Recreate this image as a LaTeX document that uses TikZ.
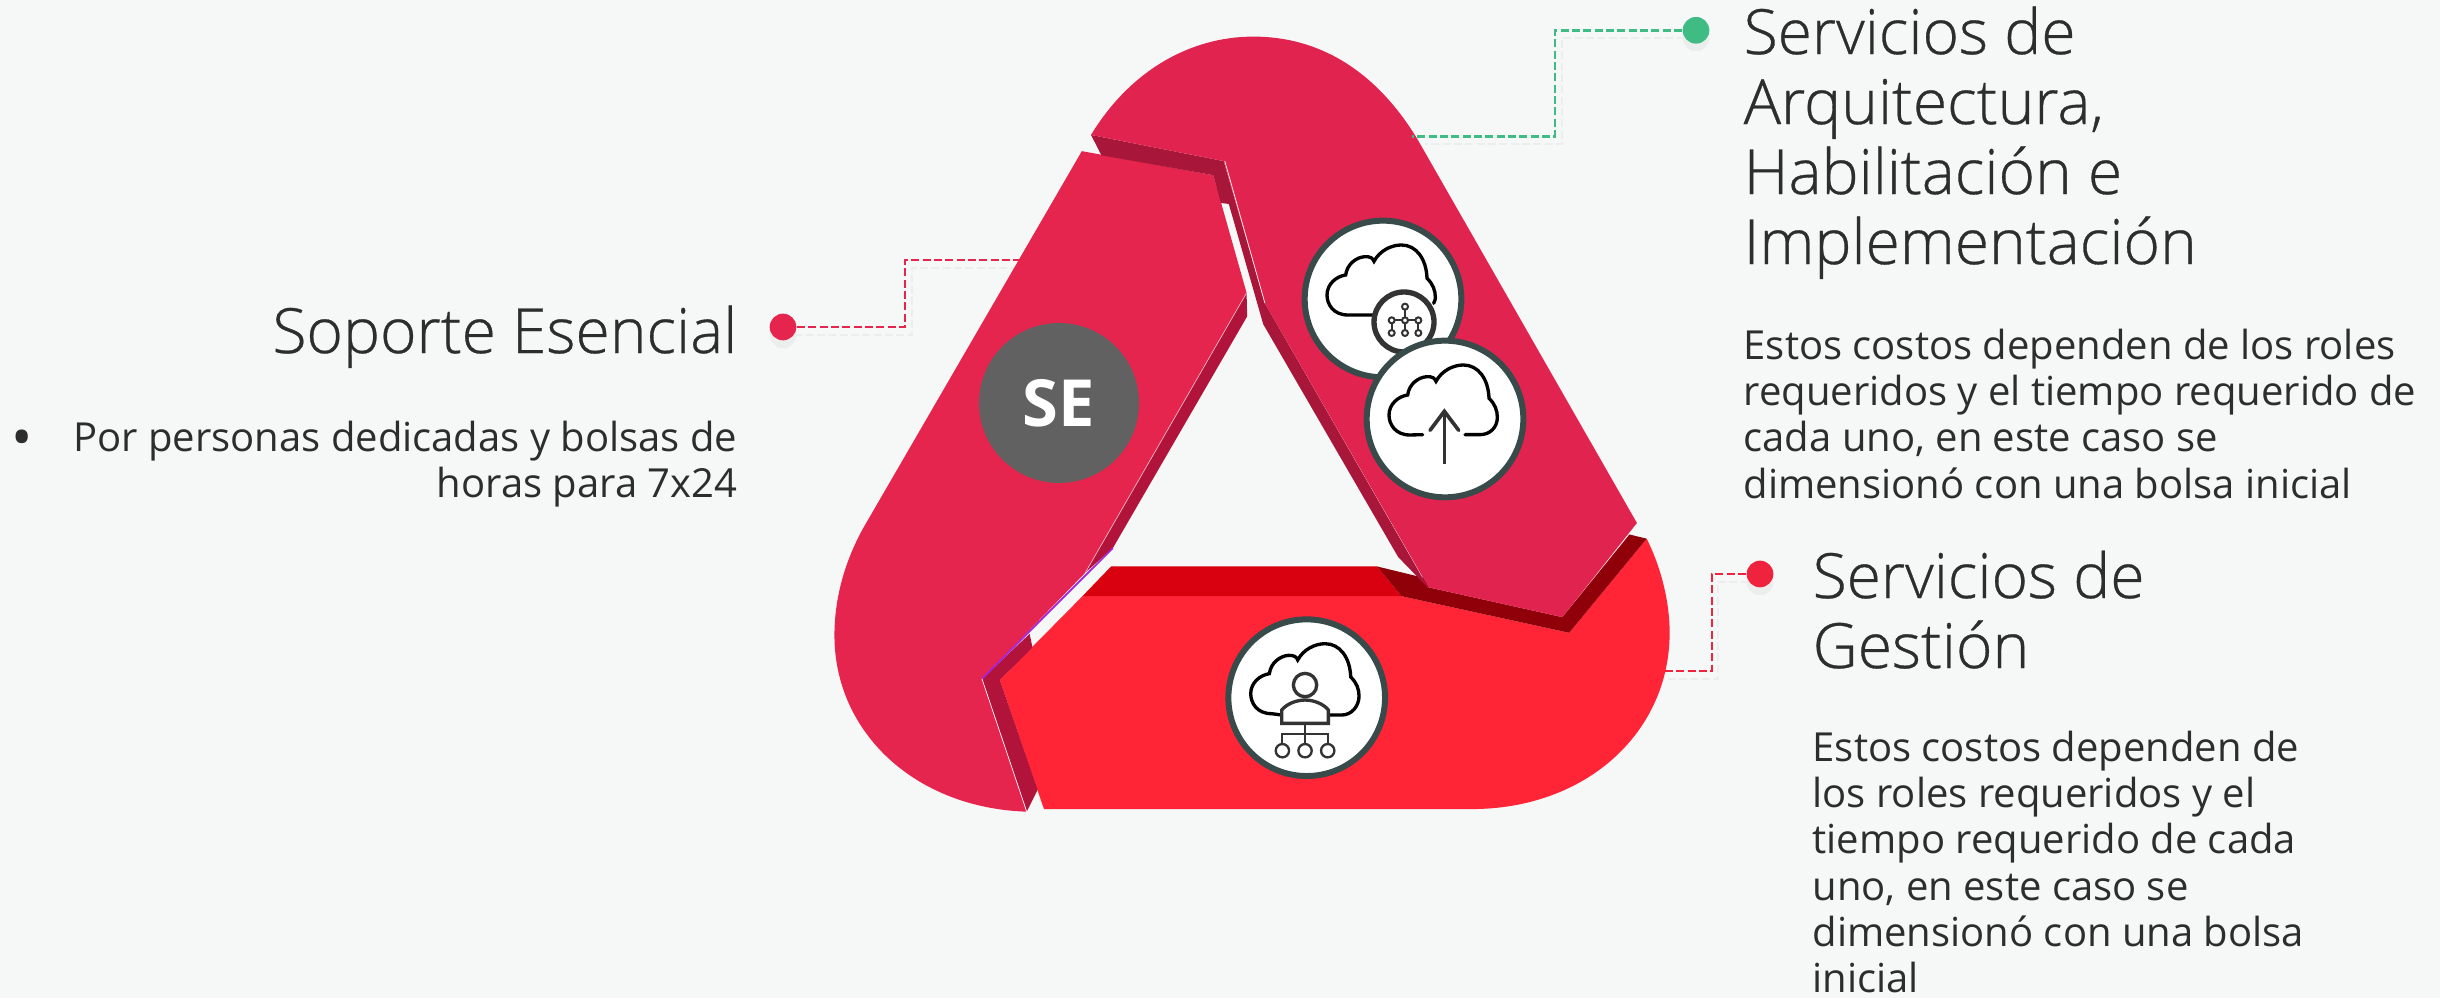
\documentclass[tikz,border=0pt]{standalone}
\usepackage{fontspec}
\setmainfont{Open Sans Light}[FakeBold=0.5]
\newfontfamily\sefont{Open Sans}
\definecolor{bgc}{HTML}{F6F8F8}
\definecolor{topc}{HTML}{E1244F}
\definecolor{leftc}{HTML}{E6254E}
\definecolor{botc}{HTML}{FF2537}
\definecolor{topd}{HTML}{A8173A}
\definecolor{leftd}{HTML}{B2133A}
\definecolor{botd}{HTML}{D9000F}
\definecolor{botdd}{HTML}{900008}
\definecolor{ringc}{HTML}{394A4A}
\definecolor{icong}{HTML}{333333}
\definecolor{greenc}{HTML}{3FBB84}
\definecolor{redc}{HTML}{E6254E}
\definecolor{redb}{HTML}{F0233F}
\definecolor{shadowc}{HTML}{ECEEEE}
\definecolor{txt}{HTML}{2D2D2D}
\definecolor{purp}{HTML}{A524D8}
\tikzset{
 ringed/.style={circle,draw=ringc,fill=white,line width=1.8pt,minimum size=47pt,inner sep=0pt},
 smallring/.style={circle,draw=icong,fill=white,line width=1.6pt,minimum size=18pt,inner sep=0pt},
 cloudline/.style={draw=black,line width=1pt,line cap=round},
 iconline/.style={draw=icong,line width=0.6pt},
 dashline/.style={line width=0.75pt,dash pattern=on 2.4pt off 1pt},
 dotn/.style={circle,minimum size=8pt,inner sep=0pt},
 head/.style={anchor=north west,align=left,text=txt,inner sep=0pt,font=\fontsize{18.7pt}{21pt}\selectfont},
 headr/.style={anchor=north east,align=right,text=txt,inner sep=0pt,font=\fontsize{18.7pt}{21pt}\selectfont},
 bodyt/.style={anchor=north west,align=left,text=txt,inner sep=0pt,font=\sefont\fontsize{12pt}{13.9pt}\selectfont},
 bodyr/.style={anchor=north east,align=right,text=txt,inner sep=0pt,font=\sefont\fontsize{12pt}{13.9pt}\selectfont},
 bulletn/.style={anchor=north west,text=txt,inner sep=0pt,font=\sefont\fontsize{17pt}{17pt}\selectfont},
}
% cloud outline, in units of a third of a pixel, around the circle centre
\newcommand\cloudmid{(-105,48) .. controls (-150,48) and (-168,15) .. (-168,-12) .. controls (-168,-45) and (-140,-68) .. (-112,-72) .. controls (-108,-105) and (-80,-125) .. (-55,-127) .. controls (-38,-128) and (-30,-122) .. (-27,-113) .. controls (-10,-145) and (25,-162) .. (55,-162) .. controls (100,-162) and (130,-120) .. (132,-62) .. controls (150,-45) and (157,-25) .. (157,-5)}
\begin{document}
\begin{tikzpicture}[x=0.3pt,y=-0.3pt]
\useasboundingbox (0,0) rectangle (2440,998);
\fill[bgc] (0,0) rectangle (2440,998);

% connectors' shadows
\draw[shadowc,dashline] (783,335) -- (912,335) -- (912,268) -- (1018,268);
\draw[shadowc,dashline] (1696,38) -- (1562,38) -- (1562,144) -- (1425,144);
\draw[shadowc,dashline] (1760,582) -- (1718,582) -- (1718,679) -- (1664,679);
\fill[shadowc] (783,335) circle (13.3);
\fill[shadowc] (1696,38) circle (13.3);
\fill[shadowc] (1760,582) circle (13.3);

% free ends of the connectors
\coordinate (endse) at (1020,260);
\coordinate (endsa) at (1412,136.3);
\coordinate (endsg) at (1662,671);

\begin{scope}[shift={(800,0)},xscale=0.574,yscale=0.523]
% bottom band
\fill[botc] (348,1300) -- (492,1140) -- (1048,1140) -- (1340,1210) -- (1475,1030) .. controls (1500,1085) and (1515,1150) .. (1515,1210) .. controls (1515,1400) and (1370,1547) .. (1170,1547) -- (425,1547) -- cycle;
\fill[botd] (492,1140) -- (542,1083) -- (1005,1083) -- (1048,1140) -- cycle;
\fill[botdd] (1005,1083) -- (1095,1107) -- (1095,1123) -- (1328,1180) -- (1445,1022) -- (1475,1030) -- (1340,1210) -- (1048,1140) -- cycle;
% left band
\fill[leftd] (778,560) -- (779,605) -- (545,1048) -- (497,1095) -- cycle;
\fill[leftd] (317,1298) -- (400,1212) -- (405,1238) -- (348,1300) -- (414,1510) -- (395,1552) -- cycle;
\fill[leftc] (491,289) -- (720,335) -- (778,560) -- (497,1095) -- (317,1298) -- (395,1552) .. controls (200,1545) and (60,1400) .. (60,1215) .. controls (60,1130) and (85,1060) .. (110,1010) -- cycle;
\draw[purp,line width=0.5pt] (317,1298) -- (545,1048);
\draw[white!70!leftd,line width=0.2pt] (778,560) -- (497,1095);
\draw[white,line width=0.2pt] (317,1298) -- (395,1552);
% top band
\fill[topd] (507,258) -- (738,308) -- (810,580) -- (1095,1125) -- (1042,1065) -- (807,620) -- (747,390) -- (733,388) -- (720,335) -- (525,297) -- cycle;
\fill[topc] (507,258) .. controls (575,135) and (680,70) .. (790,70) .. controls (900,70) and (1000,130) .. (1075,265) -- (1458,1000) -- (1328,1180) -- (1095,1123) -- (810,580) -- (738,308) -- cycle;
\draw[white,line width=0.2pt] (740,308) -- (810,580);
\end{scope}

% connectors and dots
\node[dotn,fill=redc] (dotse) at (783,327) {};
\node[dotn,fill=greenc] (dotsa) at (1696,30.3) {};
\node[dotn,fill=redb] (dotsg) at (1760,574) {};
\draw[redc,dashline] (dotse.east) -- (905,327) -- (905,260) -- (endse);
\draw[greenc,dashline] (dotsa.west) -- (1555,30.3) -- (1555,136.3) -- (endsa);
\draw[redb,dashline] (dotsg.west) -- (1712,574) -- (1712,671) -- (endsg);

% SE circle
\node[circle,fill=black!62,minimum size=48pt,inner sep=0pt,text=white] (se) at (1059,403) {\sefont\bfseries\fontsize{19.5pt}{20pt}\selectfont SE};

% architecture circle
\node[ringed] (arch) at (1383,299) {};
\begin{scope}[shift={(1383,299)},scale=1/3]
\draw[cloudline] (-30,48) -- \cloudmid .. controls (157,0) and (156,6) .. (152,13);
\end{scope}
\node[smallring] (net) at (1404,322) {};
\begin{scope}[shift={(1200,200)},scale=1/3]
\draw[iconline] (615,320) -- (615,399) (575,361) -- (655,361) (575,361) -- (575,399) (655,361) -- (655,399);
\foreach \p in {(615,320),(575,361),(615,361),(655,361),(575,399),(615,399),(655,399)}
 \draw[icong,fill=white,line width=0.6pt] \p circle (9);
\end{scope}

% upload circle
\node[ringed] (upl) at (1445,419) {};
\begin{scope}[shift={(1445,419)},scale=1/3]
\draw[cloudline] (-67,47) -- \cloudmid .. controls (157,25) and (135,47) .. (105,47) -- (60,47);
\draw[icong,line width=1.1pt] (-2,134) -- (-2,-23);
\draw[icong,line width=1.1pt,line cap=round,line join=miter] (-45,34) -- (-2,-23) -- (41,34);
\end{scope}

% management circle
\node[ringed] (mgmt) at (1306.7,697.7) {};
\begin{scope}[shift={(1306.7,697.7)},scale=1/3]
\draw[cloudline] (-75,52) -- \cloudmid .. controls (157,25) and (135,52) .. (105,52) -- (65,52);
\draw[icong,line width=1pt,fill=white] (-75,77) -- (-75,37) .. controls (-60,18) and (-30,7) .. (-5,7) .. controls (20,7) and (50,18) .. (65,37) -- (65,77) -- cycle;
\draw[icong,line width=1pt,fill=white] (-5,-38) circle (35);
\draw[icong,line width=0.55pt] (-5,77) -- (-5,139) (-73,139) -- (-73,109) -- (63,109) -- (63,139);
\foreach \q in {-73,-5,63}
 \draw[icong,line width=0.7pt,fill=white] (\q,159) circle (20);
\end{scope}

% texts
\node[head] (t1) at (1743,6) {Servicios de\\Arquitectura,\\Habilitación e\\Implementación};
\node[bodyt] (b1) at (1743,328) {Estos costos dependen de los roles\\requeridos y el tiempo requerido de\\cada uno, en este caso se\\dimensionó con una bolsa inicial};
\node[head] (t2) at (1812,550) {Servicios de\\Gestión};
\node[bodyt] (b2) at (1812,730) {Estos costos dependen de\\los roles requeridos y el\\tiempo requerido de cada\\uno, en este caso se\\dimensionó con una bolsa\\inicial};
\node[headr] (t3) at (738,305) {Soporte Esencial};
\node[bodyr] (b3) at (738,420) {Por personas dedicadas y bolsas de\\horas para 7x24};
\node[bulletn] (bul) at (11,429) {•};
\end{tikzpicture}
\end{document}
